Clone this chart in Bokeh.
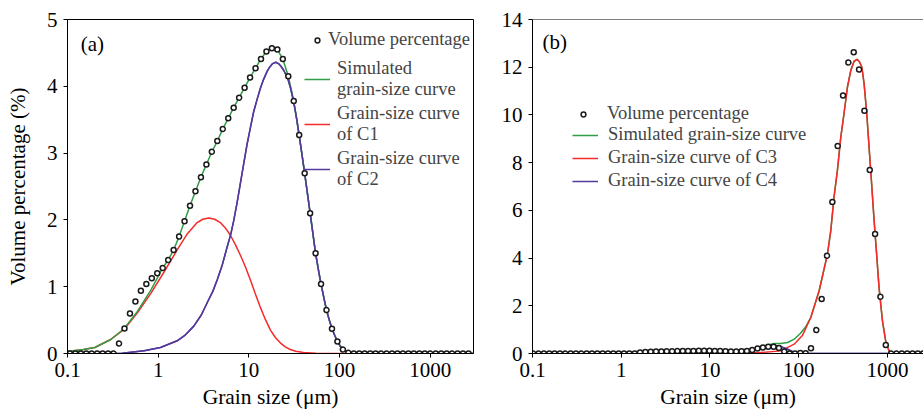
from bokeh.plotting import figure
from bokeh.layouts import row
from bokeh.models import Legend, LegendItem, Label, Span, FixedTicker, NumeralTickFormatter, Range1d
from bokeh.embed import file_html
from bokeh.resources import INLINE

FONT = "Liberation Serif"

# ---------------- data: panel (a) ----------------
grain_a = [0.1063, 0.1221, 0.1402, 0.1611, 0.1850, 0.2125, 0.2441, 0.2804, 0.3221, 0.3700,
           0.4250, 0.4883, 0.5609, 0.6443, 0.7401, 0.8502, 0.9766, 1.1218, 1.2886, 1.4802,
           1.7004, 1.9531, 2.2436, 2.5773, 2.9605, 3.4008, 3.9063, 4.4872, 5.1545, 5.9211,
           6.8016, 7.8125, 8.9743, 10.309, 11.842, 13.603, 15.625, 17.949, 20.618, 23.684,
           27.206, 31.25, 35.897, 41.235, 47.368, 54.413, 62.5, 71.794, 82.469, 94.737,
           108.83, 125.0, 143.59, 164.94, 189.47, 217.65, 250.0, 287.18, 329.88, 378.95,
           435.30, 500.0, 574.35, 659.75, 757.86, 870.55, 1000.0, 1148.7, 1319.5, 1515.7,
           1741.1, 2000.0, 2297.4, 2639.0]
vol_a = [0, 0, 0, 0, 0, 0, 0, 0, 0, 0.15,
         0.375, 0.60, 0.78, 0.94, 1.04, 1.125, 1.20, 1.28, 1.40, 1.55,
         1.75, 1.98, 2.21, 2.43, 2.64, 2.83, 3.02, 3.18, 3.36, 3.52,
         3.68, 3.83, 3.98, 4.13, 4.27, 4.41, 4.52, 4.57, 4.55, 4.41,
         4.15, 3.78, 3.27, 2.70, 2.10, 1.50, 1.04, 0.65, 0.37, 0.18,
         0.06, 0.01, 0, 0, 0, 0, 0, 0, 0, 0,
         0, 0, 0, 0, 0, 0, 0, 0, 0, 0,
         0, 0, 0, 0]

sim_a_x = [0.1, 0.15, 0.2, 0.3, 0.42, 0.59, 0.83, 1.12, 1.29, 1.48, 1.70, 1.95, 2.24, 2.58,
           2.96, 3.40, 3.91, 4.49, 5.15, 5.92, 6.80, 7.81, 8.97, 10.3, 11.8, 13.6, 15.6,
           17.9, 20.6, 23.7, 27.2, 31.25, 35.9, 41.2, 47.4, 54.4, 62.5, 71.8, 82.5, 94.7,
           108.8, 125, 150, 3000]
sim_a_y = [0.03, 0.06, 0.09, 0.21, 0.37, 0.63, 0.95, 1.28, 1.40, 1.55, 1.75, 1.98, 2.21, 2.43,
           2.64, 2.83, 3.02, 3.18, 3.36, 3.52, 3.68, 3.83, 3.98, 4.13, 4.27, 4.41, 4.52,
           4.58, 4.55, 4.41, 4.15, 3.78, 3.27, 2.70, 2.10, 1.50, 1.04, 0.65, 0.37, 0.18,
           0.06, 0.01, 0, 0]

c1_x = [0.1, 0.15, 0.2, 0.3, 0.42, 0.59, 0.83, 1.16, 1.62, 2.09, 2.69, 3.1, 3.6, 4.2, 4.85,
        5.5, 6.26, 7.1, 8.07, 9.2, 10.4, 11.8, 13.4, 15.2, 17.3, 19.6, 22.2, 25.2, 28.6, 33,
        40, 55, 80, 3000]
c1_y = [0.03, 0.06, 0.09, 0.21, 0.36, 0.61, 0.90, 1.22, 1.55, 1.79, 1.96, 2.01, 2.03, 2.01, 1.96,
        1.88, 1.77, 1.63, 1.47, 1.29, 1.10, 0.89, 0.69, 0.51, 0.35, 0.24, 0.16, 0.10, 0.06, 0.035,
        0.015, 0.002, 0, 0]

c2_x = [0.1, 0.25, 0.4, 0.7, 1.06, 1.62, 2.0, 2.47, 3.0, 3.47, 4.0, 4.47, 5.1, 5.75, 6.3, 6.81,
        7.4, 8.07, 8.8, 9.55, 10.4, 11.3, 12.3, 13.4, 14.5, 15.85, 17.0, 18.3, 19.8, 21.2,
        22.6, 24.2, 25.7, 27.2, 29.0, 31.25, 33.5, 35.9, 38.5, 41.2, 44.2, 47.4, 50.8, 54.4,
        58.3, 62.5, 67.0, 71.8, 77.0, 82.5, 88.5, 94.7, 101.5, 108.8, 116.5, 125, 150, 3000]
c2_y = [0, 0, 0.005, 0.04, 0.09, 0.19, 0.28, 0.41, 0.58, 0.76, 0.93, 1.10, 1.33, 1.59, 1.78, 1.99,
        2.25, 2.55, 2.85, 3.13, 3.38, 3.62, 3.80, 3.97, 4.10, 4.22, 4.29, 4.34, 4.36, 4.34,
        4.30, 4.24, 4.17, 4.09, 3.96, 3.76, 3.53, 3.26, 2.98, 2.70, 2.40, 2.10, 1.80, 1.50,
        1.26, 1.04, 0.84, 0.65, 0.50, 0.37, 0.27, 0.18, 0.11, 0.06, 0.03, 0.01, 0, 0]

# ---------------- data: panel (b) ----------------
grain_b = [0.1018, 0.1170, 0.1343, 0.1543, 0.1772, 0.2036, 0.2338, 0.2686, 0.3086, 0.3545,
           0.4072, 0.4678, 0.5373, 0.6172, 0.7090, 0.8145, 0.9356, 1.0747, 1.2345, 1.4180,
           1.6290, 1.8711, 2.1494, 2.4691, 2.8362, 3.2580, 3.7422, 4.2987, 4.9380, 5.6724,
           6.5159, 7.4844, 8.5974, 9.876, 11.345, 13.032, 14.969, 17.195, 19.752, 22.689,
           26.063, 29.938, 34.389, 39.503, 45.379, 52.128, 59.875, 68.779, 79.005, 90.758,
           104.26, 119.75, 137.56, 158.01, 181.51, 208.51, 239.5, 275.12, 316.03, 363.03,
           417.02, 479.0, 550.23, 632.04, 726.03, 833.99, 958.0, 1100.5, 1264.1, 1452.1,
           1667.9, 1916.0, 2200.9, 2528.2]
vol_b = [0, 0, 0, 0, 0, 0, 0, 0, 0, 0,
         0, 0, 0, 0, 0, 0, 0, 0, 0, 0,
         0.04, 0.06, 0.07, 0.08, 0.08, 0.09, 0.09, 0.10, 0.10, 0.11,
         0.11, 0.12, 0.12, 0.12, 0.11, 0.10, 0.09, 0.08, 0.08, 0.09,
         0.11, 0.15, 0.21, 0.25, 0.28, 0.28, 0.23, 0.08, 0.0, 0.0,
         0.02, 0.01, 0.22, 0.98, 2.28, 4.10, 6.35, 8.70, 10.81, 12.20,
         12.63, 11.90, 10.18, 7.69, 5.01, 2.38, 0.36, 0, 0, 0,
         0, 0, 0, 0]

c3_x = [0.1, 10, 20, 37, 63, 89, 110, 137, 170, 211, 230, 250, 273, 298, 324, 354, 386, 421,
        455, 485, 515, 546, 585, 621, 660, 707, 758, 804, 879, 958, 1043, 1100, 1200, 2600]
c3_y = [0, 0, 0.01, 0.04, 0.11, 0.39, 0.75, 1.51, 2.63, 4.17, 5.15, 6.55, 7.67, 9.06, 10.05,
        11.16, 11.86, 12.25, 12.33, 12.22, 12.0, 11.3, 10.05, 8.65, 7.25, 5.6, 4.1, 2.77, 1.37,
        0.5, 0.11, 0.01, 0, 0]

c4_x = [0.1, 10, 15, 20, 25, 30, 37, 45, 53, 63, 75, 89, 100, 120, 2600]
c4_y = [0, 0, 0.01, 0.04, 0.09, 0.16, 0.24, 0.30, 0.32, 0.28, 0.18, 0.05, 0.01, 0, 0]

sim_b_x = [0.1, 10, 15, 20, 25, 30, 37, 45, 53, 63, 75, 89, 105, 120, 137, 170, 211, 230, 250,
           273, 298, 324, 354, 386, 421, 455, 485, 515, 546, 585, 621, 660, 707, 758, 804, 879,
           958, 1043, 1100, 1200, 2600]
sim_b_y = [0, 0.02, 0.03, 0.06, 0.10, 0.17, 0.28, 0.36, 0.42, 0.42, 0.46, 0.60, 0.85, 1.12, 1.52,
           2.63, 4.17, 5.15, 6.55, 7.67, 9.06, 10.05, 11.16, 11.86, 12.25, 12.33, 12.22, 12.0,
           11.3, 10.05, 8.65, 7.25, 5.6, 4.1, 2.77, 1.37, 0.5, 0.11, 0.01, 0, 0]

x_ticks = [0.1, 1, 10, 100, 1000]
y_ticks_a = [0, 1, 2, 3, 4, 5]
y_ticks_b = [0, 2, 4, 6, 8, 10, 12, 14]

GREEN = "#2f9e44"
RED = "#f52a2a"
PURPLE = "#54399c"
DOT = "#1a1a1a"
LEG_FS = "18.5px"


def style(p, yticks):
    p.xaxis.ticker = FixedTicker(ticks=x_ticks)
    p.xaxis.formatter = NumeralTickFormatter(format="0.[0]")
    p.yaxis.ticker = FixedTicker(ticks=yticks)
    for ax in (p.xaxis[0], p.yaxis[0]):
        ax.major_label_text_font = FONT
        ax.major_label_text_font_size = "21px"
        ax.major_label_text_color = "black"
        ax.axis_label_text_font = FONT
        ax.axis_label_text_font_size = "21.5px"
        ax.axis_label_text_font_style = "normal"
        ax.axis_label_text_color = "black"
        ax.axis_line_color = "black"
        ax.major_tick_line_color = "black"
        ax.major_tick_in = 0
        ax.major_tick_out = 4
        ax.minor_tick_line_color = None
    p.xaxis.major_label_standoff = 5
    p.xaxis.axis_label_standoff = 5
    p.yaxis.major_label_standoff = 6
    p.grid.visible = False
    p.background_fill_color = "white"
    p.border_fill_color = "white"


def legend(items, loc, glyph_w, standoff, spacing):
    return Legend(items=items, location=loc, label_text_font=FONT, label_text_font_size=LEG_FS,
                  glyph_width=glyph_w, glyph_height=12, label_height=20, label_standoff=standoff,
                  spacing=spacing, padding=0, margin=0, border_line_color=None,
                  background_fill_alpha=0)


# ---------------- panel (a) ----------------
pa = figure(width=480, height=414, x_axis_type="log", output_backend="svg", toolbar_location=None,
            x_range=Range1d(0.1, 3000), y_range=Range1d(0, 5),
            min_border_left=67, min_border_right=7, min_border_top=17, min_border_bottom=60)
style(pa, y_ticks_a)
pa.xaxis.axis_label = "Grain size (μm)"
pa.yaxis.axis_label = "Volume percentage (%)"
pa.yaxis.axis_label_text_font_size = "21px"
pa.yaxis.axis_label_standoff = 14
pa.outline_line_color = "black"
pa.outline_line_width = 1

r_c1a = pa.line(c1_x, c1_y, line_color=RED, line_width=1.5)
r_c2a = pa.line(c2_x, c2_y, line_color=PURPLE, line_width=1.5)
r_sima = pa.line(sim_a_x, sim_a_y, line_color=GREEN, line_width=1.5)
r_c2a_top = pa.line(c2_x, c2_y, line_color=PURPLE, line_width=1.5)
r_dota = pa.scatter(grain_a, vol_a, marker="circle", size=5, fill_color="white",
                    line_color=DOT, line_width=1.5)

leg_a1 = legend([LegendItem(label="Volume percentage", renderers=[r_dota])],
                (244, 303), 12, 5, 0)
leg_a2 = legend([
    LegendItem(label="Simulated\ngrain-size curve", renderers=[r_sima]),
    LegendItem(label="Grain-size curve\nof C1", renderers=[r_c1a]),
    LegendItem(label="Grain-size curve\nof C2", renderers=[r_c2a]),
], (237, 163), 26, 7, 3)
pa.add_layout(leg_a1)
pa.add_layout(leg_a2)
pa.add_layout(Label(x=0.14, y=4.63, text="(a)", text_font=FONT, text_font_size="21px",
                    text_baseline="middle", text_color="black"))

# ---------------- panel (b) ----------------
pb = figure(width=443, height=414, x_axis_type="log", output_backend="svg", toolbar_location=None,
            x_range=Range1d(0.1, 2550), y_range=Range1d(0, 14),
            min_border_left=52, min_border_right=0, min_border_top=19, min_border_bottom=61)
style(pb, y_ticks_b)
pb.xaxis.axis_label = "Grain size (μm)"
pb.outline_line_color = None
pb.add_layout(Span(location=14, dimension="width", line_color="black", line_width=1))

r_c4b = pb.line(c4_x, c4_y, line_color=PURPLE, line_width=1.5)
r_simb = pb.line(sim_b_x, sim_b_y, line_color=GREEN, line_width=1.5)
r_c3b = pb.line(c3_x, c3_y, line_color=RED, line_width=1.5)
r_c4b_top = pb.line(c4_x, c4_y, line_color=PURPLE, line_width=1.5)
r_dotb = pb.scatter(grain_b, vol_b, marker="circle", size=5, fill_color="white",
                    line_color=DOT, line_width=1.5)

leg_b1 = legend([LegendItem(label="Volume percentage", renderers=[r_dotb])],
                (45, 229), 12, 18, 0)
leg_b2 = legend([
    LegendItem(label="Simulated grain-size curve", renderers=[r_simb]),
    LegendItem(label="Grain-size curve of C3", renderers=[r_c3b]),
    LegendItem(label="Grain-size curve of C4", renderers=[r_c4b]),
], (40, 162), 26, 10, 2)
pb.add_layout(leg_b1)
pb.add_layout(leg_b2)
pb.add_layout(Label(x=0.13, y=13.05, text="(b)", text_font=FONT, text_font_size="21px",
                    text_baseline="middle", text_color="black"))

layout = row(pa, pb)
open("out.html", "w").write(file_html(layout, INLINE))
